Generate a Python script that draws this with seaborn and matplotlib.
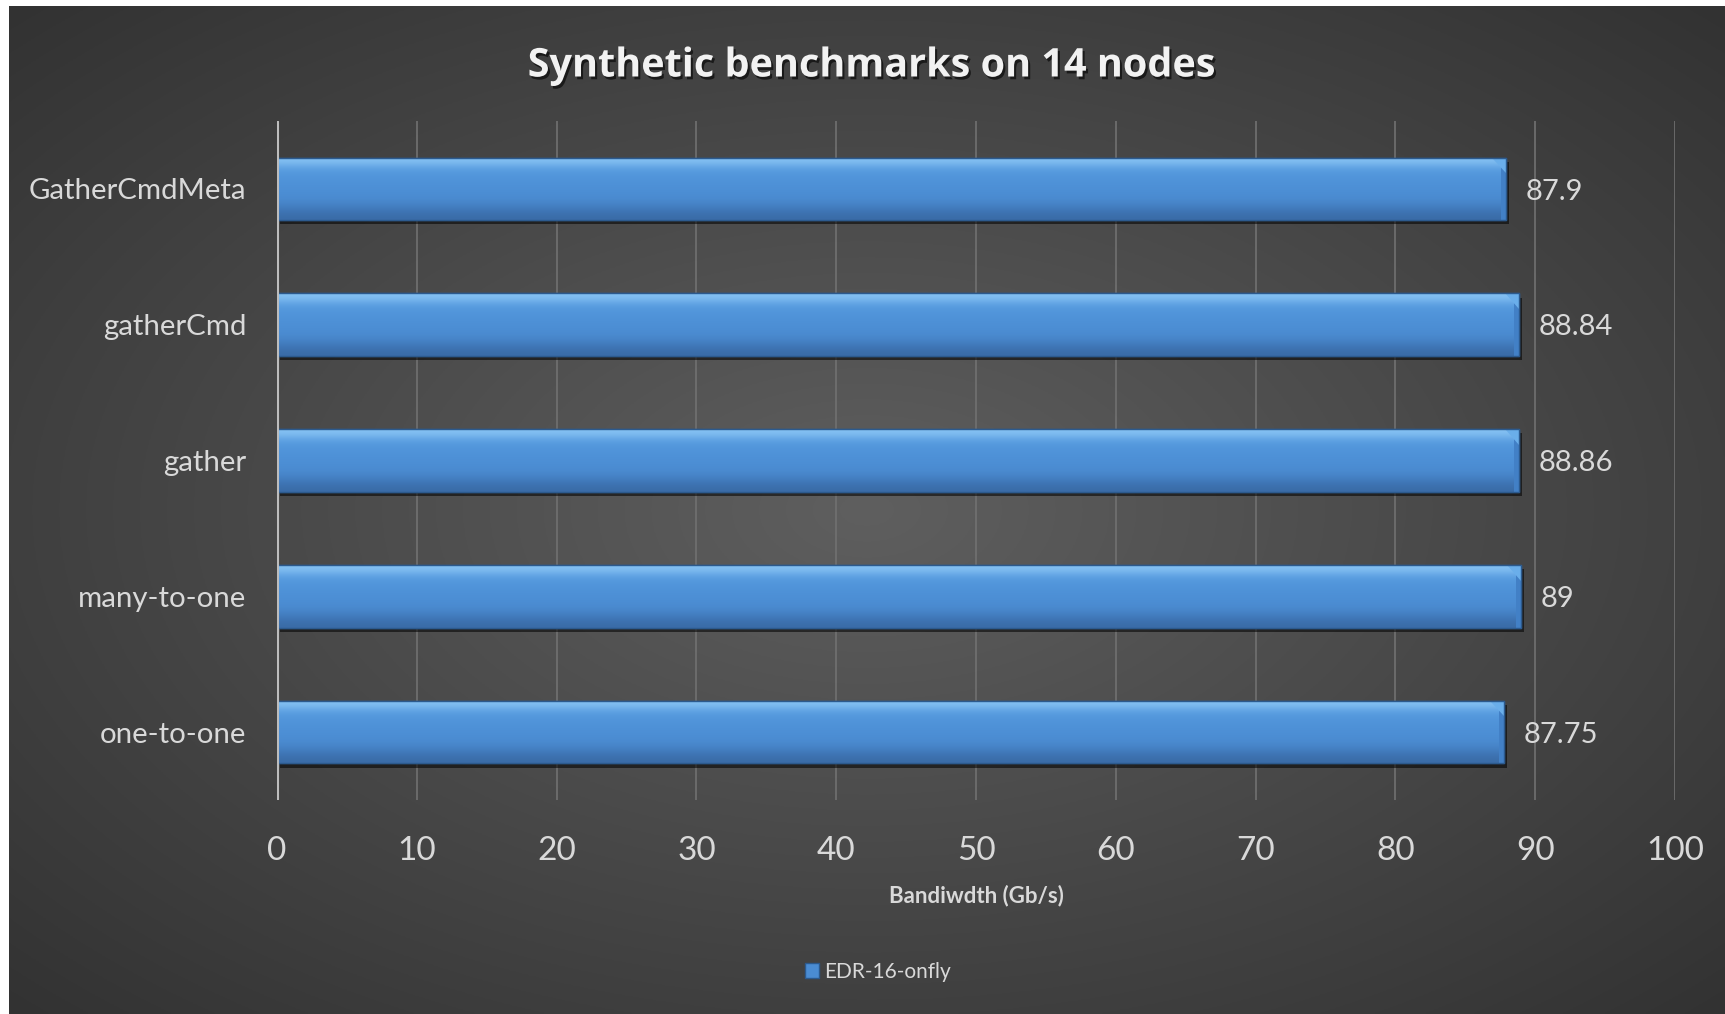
import numpy as np
import pandas as pd
import matplotlib
matplotlib.use("Agg")
import matplotlib.pyplot as plt
import matplotlib.patheffects as pe
from matplotlib.patches import Rectangle, Polygon
import seaborn as sns

# Benchmark results (bandwidth in Gb/s)
benchmarks = ["GatherCmdMeta", "gatherCmd", "gather", "many-to-one", "one-to-one"]
bandwidth = [87.9, 88.84, 88.86, 89, 87.75]
value_labels = ["87.9", "88.84", "88.86", "89", "87.75"]
series_name = "EDR-16-onfly"
x_ticks = [0, 10, 20, 30, 40, 50, 60, 70, 80, 90, 100]

df = pd.DataFrame({"benchmark": benchmarks, "bandwidth": bandwidth})

sns.set_theme(style="dark")
plt.rcParams["font.family"] = ["Lato", "DejaVu Sans"]

W, H = 1725, 1014
fig = plt.figure(figsize=(W / 100, H / 100), dpi=100)
fig.patch.set_facecolor("white")

# Dark radial-gradient backdrop
bg = fig.add_axes([9 / W, 0, 1 - 9 / W, 1 - 6 / H], zorder=-10)
yy, xx = np.mgrid[0:1:400j, 0:1:700j]
r = np.sqrt(((xx - 0.5) / 0.5) ** 2 + ((yy - 0.5) / 0.5) ** 2) / np.sqrt(2)
r = np.clip(r, 0, 1)
lo, hi = np.array([0x32, 0x32, 0x32]) / 255, np.array([0x5f, 0x5f, 0x5f]) / 255
img = hi[None, None, :] * (1 - r[..., None]) + lo[None, None, :] * r[..., None]
bg.imshow(img, aspect="auto", extent=[0, 1, 0, 1], origin="lower")
bg.set_axis_off()

ax = fig.add_axes([277 / W, 1 - 800 / H, (1675 - 277) / W, (800 - 121) / H])
ax.set_facecolor("none")

sns.barplot(data=df, x="bandwidth", y="benchmark", orient="h", color="#4a8cd3",
            width=0.46, ax=ax, edgecolor="#2c5a8e", linewidth=1.0, zorder=3)

# Bevelled look: vertical gradient clipped to each bar, plus a drop shadow
grad = np.array([
    [0x3a, 0x6c, 0xa8], [0x42, 0x7b, 0xbd], [0x4a, 0x8a, 0xcf], [0x4c, 0x8e, 0xd4],
    [0x4e, 0x91, 0xd7], [0x51, 0x95, 0xda], [0x58, 0x9c, 0xe0], [0x86, 0xc2, 0xf3],
]) / 255
grad_img = grad[:, None, :]
n = len(benchmarks)
for p in ax.patches[:n]:
    p.set_path_effects([pe.SimplePatchShadow(offset=(2, -3), shadow_rgbFace="black", alpha=0.55),
                        pe.Normal()])
    x0, y0 = p.get_x(), p.get_y()
    w, h = p.get_width(), p.get_height()
    im = ax.imshow(grad_img, extent=[x0, x0 + w, y0 + h, y0], aspect="auto",
                   origin="lower", zorder=3.5, interpolation="bicubic")
    im.set_clip_path(p)
    # bevelled right end: a slightly darker cap with a light corner facet
    cap = Rectangle((x0 + w - 0.35, y0), 0.35, h, facecolor="#4280c6",
                    edgecolor="none", zorder=3.6)
    ax.add_patch(cap)
    cap.set_clip_path(p)
    facet = Polygon([(x0 + w - 1.0, y0), (x0 + w, y0), (x0 + w, y0 + h * 0.25)],
                    closed=True, facecolor="#6aaeea", edgecolor="none", zorder=3.6)
    ax.add_patch(facet)
    facet.set_clip_path(p)
    ax.add_patch(Rectangle((x0, y0), w, h, facecolor="none", edgecolor="#2c5a8e",
                           linewidth=1.0, zorder=3.7))

ax.set_xlim(0, 100)
ax.set_ylim(n - 0.5, -0.5)
ax.set_xticks(x_ticks)
ax.set_xticklabels([str(t) for t in x_ticks])

# Gridlines and axis
for t in x_ticks[1:]:
    ax.axvline(t, color="#717171", linewidth=1.2, zorder=1)
ax.axvline(0, color="#bdbdbd", linewidth=2.2, zorder=4)
for s in ax.spines.values():
    s.set_visible(False)

ax.tick_params(axis="x", length=0, pad=26, labelsize=24, labelcolor="#d9d9d9")
ax.tick_params(axis="y", length=0, pad=22, labelsize=21.2, labelcolor="#d9d9d9")
ax.set_ylabel("")
ax.set_xlabel("Bandiwdth (Gb/s)", fontsize=16, fontweight="bold", color="#d9d9d9",
              labelpad=13)

for p, lab in zip(ax.patches[:n], value_labels):
    ax.annotate(lab, (p.get_x() + p.get_width(), p.get_y() + p.get_height() / 2),
                xytext=(14, -2), textcoords="offset points", va="center", ha="left",
                fontsize=21, color="#d9d9d9", zorder=5)

fig.text(872 / W, 1 - 66 / H, "Synthetic benchmarks on 14 nodes", ha="center", va="center",
         fontsize=28.5, fontweight="bold", color="#f2f2f2", family=["Open Sans", "DejaVu Sans"],
         path_effects=[pe.withSimplePatchShadow(offset=(1.5, -2), shadow_rgbFace="black", alpha=0.6)])

# Legend
handle = Rectangle((0, 0), 1, 1, facecolor="#4a8cd3", edgecolor="#2c5a8e")
leg = fig.legend([handle], [series_name], loc="center", bbox_to_anchor=(878 / W, 1 - 972 / H),
                 frameon=False, fontsize=15, handlelength=0.7, handleheight=0.7,
                 handletextpad=0.25, labelcolor="#d9d9d9")

fig.savefig("out.png", dpi=100, facecolor=fig.get_facecolor())
